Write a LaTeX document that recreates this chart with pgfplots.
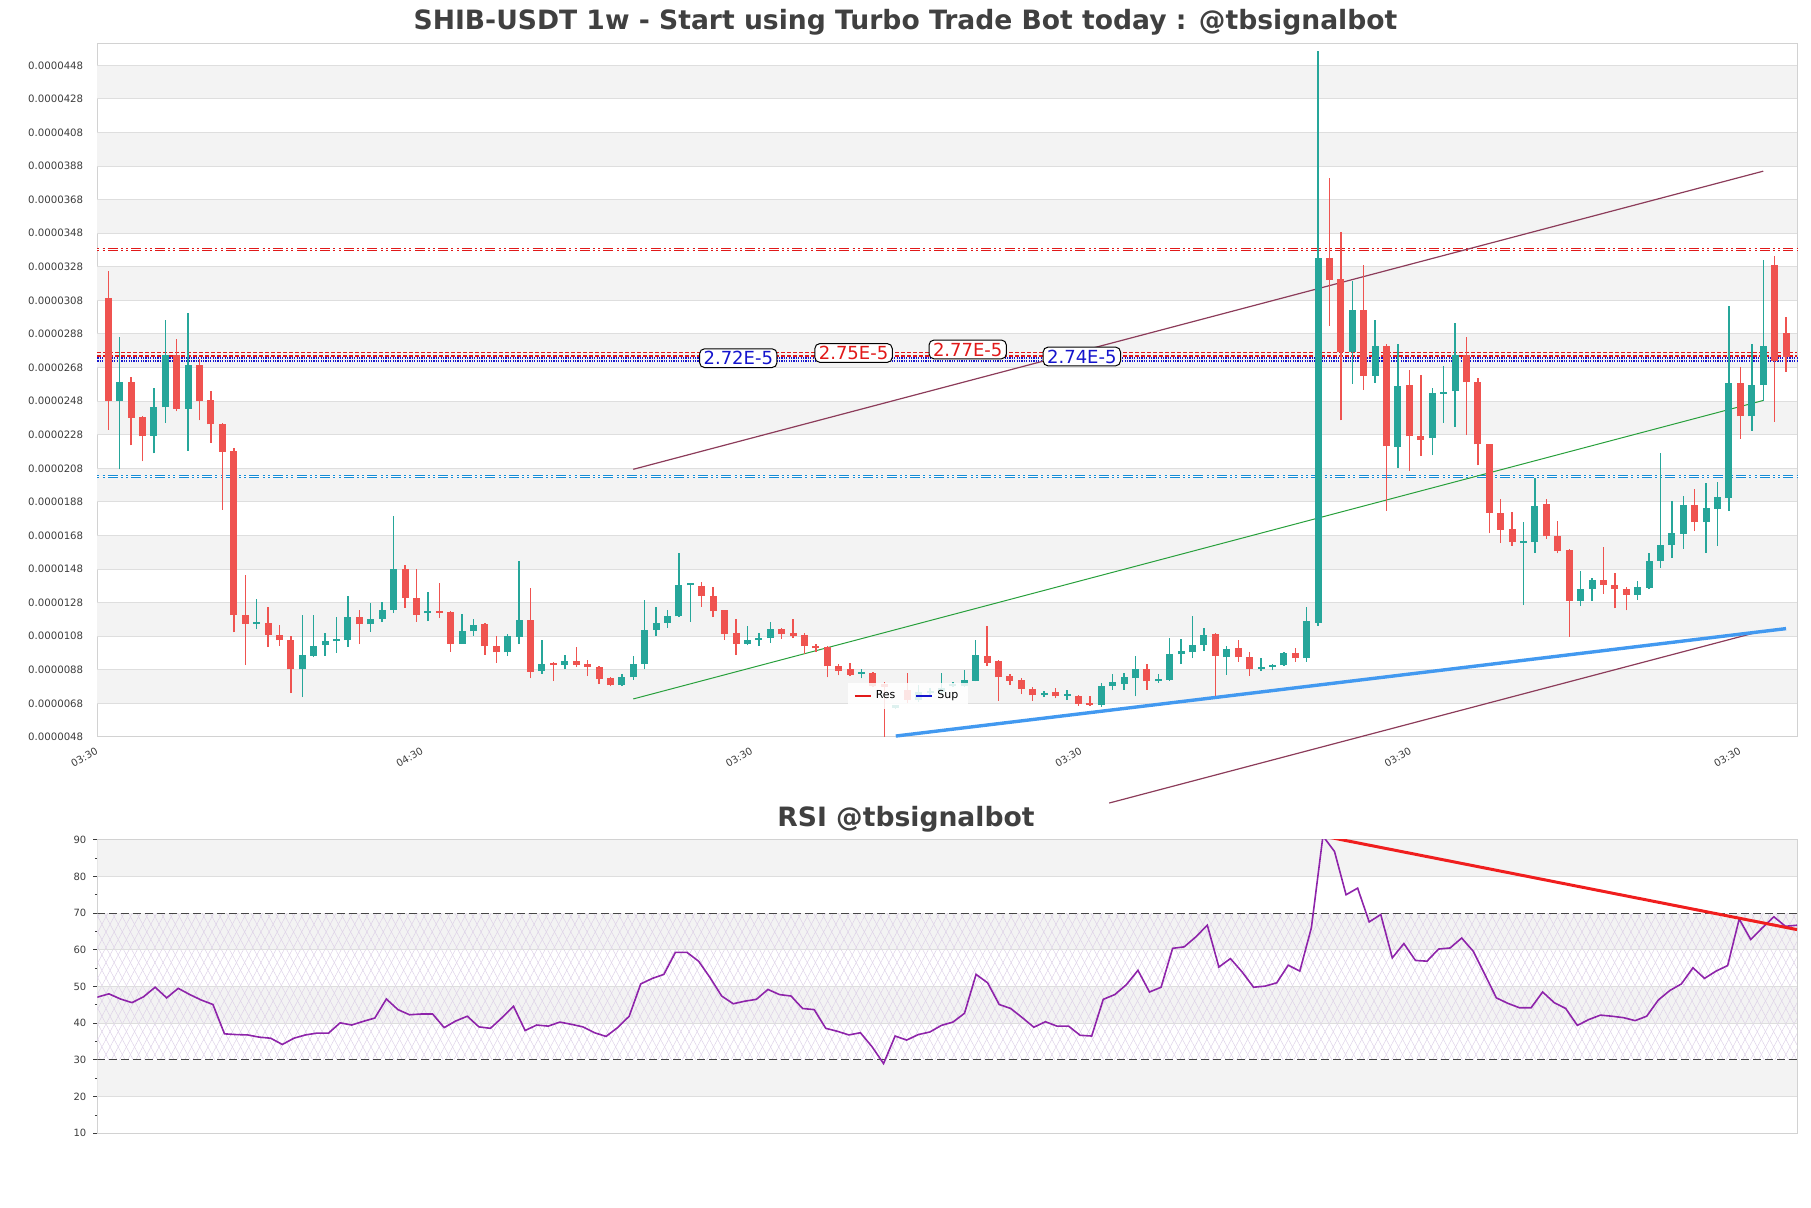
\documentclass[border=0pt]{standalone}
\usepackage{pgfplots}
\usepackage{pgfplotstable}
\pgfplotsset{compat=1.18}
\usepackage{fontspec}
\setmainfont{DejaVu Sans}
\usetikzlibrary{patterns.meta}

\definecolor{upGreen}{RGB}{38,166,154}
\definecolor{downRed}{RGB}{239,83,80}
\definecolor{bandGray}{RGB}{243,243,243}
\definecolor{gridGray}{RGB}{222,222,222}
\definecolor{frameGray}{RGB}{210,210,210}
\definecolor{tickGray}{RGB}{60,60,60}
\definecolor{titleGray}{RGB}{64,64,64}
\definecolor{chanBrown}{RGB}{140,60,90}
\definecolor{chanGreen}{RGB}{40,160,60}
\definecolor{supLine}{RGB}{66,153,240}
\definecolor{resRed}{RGB}{225,25,25}
\definecolor{supBlue}{RGB}{20,20,205}
\definecolor{cyanLevel}{RGB}{20,140,215}
\definecolor{rsiPurple}{RGB}{142,36,170}
\definecolor{rsiRed}{RGB}{240,30,30}
\definecolor{dashGray}{RGB}{70,70,70}
\definecolor{hatchViolet}{RGB}{222,210,232}

% weekly candles, prices in units of 1e-6 -- rising weeks
\pgfplotstableread{
i o h l c
1 24.83 28.63 20.73 25.94
4 22.75 25.57 21.69 24.45
5 24.43 29.64 23.52 27.57
7 24.35 30.04 21.85 26.95
13 11.53 13.02 11.21 11.64
17 8.82 12.06 7.17 9.67
18 9.61 12.09 9.53 10.23
19 10.25 11.00 9.64 10.49
20 10.49 11.95 9.80 10.57
21 10.55 13.20 10.15 11.95
23 11.50 12.75 11.05 11.85
24 11.85 12.86 11.64 12.38
25 12.38 17.96 12.17 14.80
28 12.17 13.42 11.69 12.27
31 10.36 12.14 10.33 11.08
32 11.08 11.80 10.81 11.48
35 9.83 10.92 9.61 10.81
36 10.76 15.25 10.33 11.74
38 8.74 10.55 8.55 9.16
40 9.08 9.67 8.82 9.35
45 7.89 8.55 7.83 8.36
46 8.34 9.61 8.20 9.13
47 9.13 12.96 8.82 11.16
48 11.16 12.54 10.79 11.61
49 11.61 12.38 11.29 11.98
50 11.98 15.73 11.93 13.82
51 13.82 13.92 11.66 13.88
56 10.36 11.40 10.25 10.55
57 10.60 11.00 10.23 10.68
58 10.68 11.66 10.41 11.21
66 8.55 8.87 8.28 8.63
69 6.55 6.72 6.48 6.63
71 7.00 7.90 6.90 7.50
72 7.40 7.70 7.20 7.50
73 7.50 8.60 7.30 7.70
74 7.81 8.07 7.76 7.97
75 7.81 8.76 7.76 8.20
76 8.15 10.55 8.10 9.67
82 7.27 7.54 7.17 7.43
84 7.25 7.57 7.01 7.33
87 6.69 8.02 6.61 7.83
88 7.83 8.55 7.59 8.07
89 7.97 8.60 7.62 8.34
90 8.28 9.61 7.22 8.82
92 8.10 8.55 8.02 8.23
93 8.18 10.68 8.13 9.72
94 9.72 10.63 9.13 9.93
95 9.83 12.01 9.48 10.28
96 10.28 11.27 9.93 10.87
98 9.53 10.20 8.50 10.01
101 8.87 9.48 8.74 8.98
102 8.95 9.16 8.76 9.08
103 9.08 9.88 9.03 9.80
105 9.48 12.54 9.29 11.69
106 11.61 45.65 11.42 33.34
109 27.70 31.95 25.84 30.23
111 26.32 29.61 25.89 28.07
113 22.06 28.23 20.84 25.70
116 22.59 25.57 21.58 25.30
117 25.25 26.90 23.52 25.36
118 25.38 29.45 23.26 27.57
124 16.34 17.59 12.65 16.45
125 16.40 20.20 15.78 18.58
129 12.89 14.67 12.59 13.60
130 13.60 14.27 12.89 14.14
134 13.28 14.08 12.97 13.74
135 13.69 15.78 13.60 15.28
136 15.28 21.72 14.88 16.26
137 16.26 18.87 15.47 16.93
138 16.87 19.16 16.00 18.61
140 17.59 19.91 15.78 18.45
141 18.40 19.99 16.18 19.11
142 19.03 30.44 18.26 25.89
144 23.90 28.23 23.04 25.76
145 25.76 33.23 24.83 28.10
}\upc

% falling weeks
\pgfplotstableread{
i o h l c
0 30.94 32.54 23.10 24.83
2 25.94 26.21 22.17 23.82
3 23.84 23.90 21.21 22.70
6 27.57 28.50 24.19 24.35
8 26.95 27.30 23.66 24.83
9 24.88 25.41 22.33 23.41
10 23.44 23.49 18.34 21.80
11 21.82 21.98 11.03 12.09
12 12.09 14.45 9.08 11.53
14 11.61 12.54 10.15 10.89
15 10.89 11.48 10.20 10.55
16 10.60 10.81 7.41 8.82
22 11.95 12.38 10.33 11.50
26 14.80 15.01 12.49 13.07
27 13.07 14.83 11.66 12.09
29 12.27 13.95 11.87 12.19
30 12.25 12.30 9.88 10.36
33 11.53 11.61 9.69 10.20
34 10.20 10.81 9.22 9.83
37 11.74 13.66 8.28 8.68
39 9.19 9.27 8.12 9.08
41 9.35 10.15 8.95 9.08
42 9.13 9.40 8.42 8.95
43 8.95 9.03 7.94 8.23
44 8.28 8.36 7.81 7.89
52 13.76 14.00 12.54 13.18
53 13.18 13.74 11.93 12.27
54 12.33 12.38 10.60 10.95
55 11.00 11.82 9.67 10.36
59 11.21 11.27 10.63 10.95
60 11.00 11.85 10.68 10.81
61 10.87 11.00 9.75 10.20
62 10.17 10.36 9.88 10.07
63 10.15 10.20 8.34 9.00
64 9.00 9.13 8.47 8.74
65 8.82 9.19 8.42 8.50
67 8.63 8.68 7.75 7.83
68 7.95 8.05 4.82 7.80
70 7.60 8.59 6.80 7.00
77 9.61 11.40 9.03 9.22
78 9.35 9.40 6.95 8.34
79 8.42 8.55 7.89 8.15
80 8.20 8.28 7.35 7.67
81 7.67 7.75 6.95 7.27
83 7.49 7.70 7.09 7.22
85 7.22 7.27 6.64 6.77
86 6.79 7.22 6.64 6.72
91 8.82 9.16 7.62 8.10
97 10.95 11.00 7.22 9.61
99 10.07 10.55 9.29 9.53
100 9.56 9.88 8.42 8.87
104 9.80 10.09 9.29 9.48
107 33.34 38.07 29.29 32.01
108 32.09 34.88 23.66 27.70
110 30.23 32.94 25.49 26.32
112 28.10 28.23 18.26 22.11
114 25.78 26.64 20.65 22.70
115 22.73 26.37 21.53 22.51
119 27.57 28.63 22.78 25.92
120 25.92 26.18 20.97 22.22
121 22.22 22.25 16.93 18.13
122 18.13 19.00 16.34 17.14
123 17.19 18.18 16.18 16.40
126 18.66 19.00 16.61 16.74
127 16.79 17.65 15.73 15.86
128 15.94 16.00 10.76 12.89
131 14.14 16.13 13.34 13.87
132 13.87 14.59 12.46 13.60
133 13.60 13.74 12.33 13.28
139 18.61 19.59 17.06 17.59
143 25.89 26.82 22.57 23.90
146 32.94 33.42 23.58 27.22
147 28.84 29.83 26.55 27.43
}\downc

\pgfplotstableread{
j r
0 47.1
1 48.0
2 46.6
3 45.6
4 47.2
5 49.8
6 46.9
7 49.5
8 47.8
9 46.3
10 45.1
11 37.1
12 36.9
13 36.8
14 36.2
15 35.9
16 34.2
17 35.9
18 36.8
19 37.3
20 37.3
21 40.1
22 39.5
23 40.5
24 41.4
25 46.6
26 43.7
27 42.3
28 42.5
29 42.5
30 38.8
31 40.6
32 41.9
33 39.0
34 38.6
35 41.5
36 44.6
37 38.0
38 39.5
39 39.2
40 40.3
41 39.7
42 39.0
43 37.4
44 36.4
45 38.8
46 41.9
47 50.7
48 52.2
49 53.3
50 59.3
51 59.3
52 56.9
53 52.4
54 47.4
55 45.3
56 46.0
57 46.5
58 49.2
59 47.8
60 47.4
61 44.0
62 43.7
63 38.6
64 37.8
65 36.8
66 37.4
67 33.6
68 29.0
69 36.5
70 35.4
71 36.9
72 37.6
73 39.4
74 40.3
75 42.7
76 53.3
77 51.0
78 45.1
79 44.0
80 41.5
81 38.9
82 40.4
83 39.2
84 39.2
85 36.7
86 36.5
87 46.5
88 47.8
89 50.5
90 54.4
91 48.5
92 49.8
93 60.4
94 60.8
95 63.5
96 66.7
97 55.3
98 57.6
99 54.0
100 49.8
101 50.1
102 51.0
103 55.8
104 54.2
105 66.0
106 91.0
107 86.8
108 75.0
109 76.8
110 67.6
111 69.6
112 57.8
113 61.7
114 57.1
115 56.9
116 60.2
117 60.5
118 63.2
119 59.6
120 53.3
121 46.9
122 45.4
123 44.2
124 44.2
125 48.5
126 45.6
127 44.0
128 39.4
129 41.0
130 42.2
131 41.9
132 41.5
133 40.7
134 41.9
135 46.3
136 48.9
137 50.7
138 55.1
139 52.2
140 54.2
141 55.7
142 68.4
143 62.8
144 66.0
145 69.0
146 66.4
147 66.7
}\rsidata

\tikzset{
  levelpat/.style={dash pattern=on 1pt off 1.6pt on 1pt off 1.6pt on 5pt off 1.6pt},
  lvlbox/.style={draw=black, line width=0.5pt, rounded corners=2.5pt, fill=white,
    font=\fontsize{9}{9}\selectfont, inner xsep=2pt, inner ysep=1.4pt,
    text height=6.6pt, text depth=0pt},
}

\begin{document}
\begin{tikzpicture}
\useasboundingbox (0,0) rectangle (905.5pt,604pt);

\node[font=\fontsize{13.3}{16}\selectfont\bfseries, text=titleGray]
  at (452.75pt,593pt) {SHIB-USDT 1w - Start using Turbo Trade Bot today : @tbsignalbot};
\node[font=\fontsize{13.3}{16}\selectfont\bfseries, text=titleGray]
  at (453pt,194.5pt) {RSI @tbsignalbot};

% ---------------- price panel ----------------
\begin{axis}[
    at={(48.65pt,235.55pt)}, anchor=south west,
    scale only axis, width=849.85pt, height=346.65pt,
    xmin=-0.96, xmax=147.96, ymin=4.8, ymax=46.1,
    clip=false,
    axis line style={draw=frameGray, line width=0.5pt},
    major tick length=0pt,
    ytick={4.8,6.8,8.8,10.8,12.8,14.8,16.8,18.8,20.8,22.8,24.8,26.8,28.8,30.8,32.8,34.8,36.8,38.8,40.8,42.8,44.8},
    yticklabels={0.0000048,0.0000068,0.0000088,0.0000108,0.0000128,0.0000148,0.0000168,0.0000188,0.0000208,0.0000228,0.0000248,0.0000268,0.0000288,0.0000308,0.0000328,0.0000348,0.0000368,0.0000388,0.0000408,0.0000428,0.0000448},
    yticklabel style={font=\fontsize{5.1}{6}\selectfont, text=tickGray, xshift=-3.5pt},
    xtick={-0.95,27.56,56.42,85.28,114.14,143.0},
    xticklabels={03:30,04:30,03:30,03:30,03:30,03:30},
    xticklabel style={font=\fontsize{5}{6}\selectfont, text=tickGray, rotate=30, anchor=north east},
    legend style={at={(0.477,0.059)}, anchor=center, legend columns=2,
      draw=none, fill=white, fill opacity=0.85, text opacity=1,
      font=\fontsize{5.5}{6}\selectfont, inner xsep=3pt, inner ysep=1.5pt,
      /tikz/every even column/.append style={column sep=8pt}},
    legend image code/.code={\draw[#1] (0pt,0pt) -- (8pt,0pt);},
  ]

  % alternating background bands
  \pgfplotsinvokeforeach{6.8,10.8,14.8,18.8,22.8,26.8,30.8,34.8,38.8,42.8}{
    \addplot[forget plot, draw=none, fill=bandGray]
      coordinates {(-0.96,#1) (147.96,#1) (147.96,#1+2) (-0.96,#1+2)} -- cycle;
  }
  % grid lines
  \pgfplotsinvokeforeach{6.8,8.8,10.8,12.8,14.8,16.8,18.8,20.8,22.8,24.8,26.8,28.8,30.8,32.8,34.8,36.8,38.8,40.8,42.8,44.8}{
    \addplot[forget plot, gridGray, line width=0.5pt] coordinates {(-0.96,#1) (147.96,#1)};
  }

  % horizontal levels
  \addplot[forget plot, resRed, line width=1.4pt, levelpat] coordinates {(-0.96,33.84) (147.96,33.84)};
  \addplot[forget plot, white, line width=0.3pt, levelpat] coordinates {(-0.96,33.84) (147.96,33.84)};
  \addplot[forget plot, cyanLevel, line width=1.4pt, levelpat] coordinates {(-0.96,20.30) (147.96,20.30)};
  \addplot[forget plot, white, line width=0.3pt, levelpat] coordinates {(-0.96,20.30) (147.96,20.30)};
  \addplot[forget plot, resRed, line width=0.8pt, dash pattern=on 2pt off 1pt] coordinates {(-0.96,27.70) (147.96,27.70)};
  \addplot[forget plot, resRed, line width=0.8pt, dash pattern=on 2pt off 1pt] coordinates {(-0.96,27.50) (147.96,27.50)};
  \addplot[forget plot, supBlue, line width=0.8pt, dash pattern=on 0.6pt off 0.6pt] coordinates {(-0.96,27.38) (147.96,27.38)};
  \addplot[forget plot, supBlue, line width=0.8pt, dash pattern=on 0.6pt off 0.6pt] coordinates {(-0.96,27.20) (147.96,27.20)};

  % channel and trend lines
  \addplot[forget plot, chanBrown, line width=0.6pt] coordinates {(46,20.74) (145,38.50)};
  \addplot[forget plot, chanGreen, line width=0.5pt] coordinates {(46,7.06) (145,24.84)};
  \addplot[forget plot, chanBrown, line width=0.6pt] coordinates {(87.7,0.86) (145,11.13)};
  \addplot[forget plot, supLine, line width=1.7pt] coordinates {(69,4.85) (147,11.25)};

  % wicks (low to high)
  \addplot[forget plot, mark=none, upGreen, line width=0.7pt,
    quiver={u=0, v=\thisrow{h}-\thisrow{l}}]
    table[x=i, y=l] {\upc};
  \addplot[forget plot, mark=none, downRed, line width=0.7pt,
    quiver={u=0, v=\thisrow{h}-\thisrow{l}}]
    table[x=i, y=l] {\downc};
  % bodies (open to close)
  \addplot[forget plot, mark=none, upGreen, line width=3.5pt,
    quiver={u=0, v={max(\thisrow{c}-\thisrow{o},0.12)}}]
    table[x=i, y=o] {\upc};
  \addplot[forget plot, mark=none, downRed, line width=3.5pt,
    quiver={u=0, v={max(\thisrow{o}-\thisrow{c},0.12)}}]
    table[x=i, y=c] {\downc};

  \node[lvlbox, text=supBlue] at (axis cs:55.2,27.36) {2.72E-5};
  \node[lvlbox, text=resRed] at (axis cs:65.3,27.67) {2.75E-5};
  \node[lvlbox, text=resRed] at (axis cs:75.3,27.88) {2.77E-5};
  \node[lvlbox, text=supBlue] at (axis cs:85.3,27.46) {2.74E-5};

  \addlegendimage{resRed, line width=1pt}
  \addlegendentry{Res}
  \addlegendimage{supBlue, line width=1pt}
  \addlegendentry{Sup}
\end{axis}

% ---------------- RSI panel ----------------
\begin{axis}[
    at={(48.65pt,37.35pt)}, anchor=south west,
    scale only axis, width=849.85pt, height=146.8pt,
    xmin=0, xmax=147, ymin=10, ymax=90,
    axis line style={draw=frameGray, line width=0.5pt},
    xtick=\empty,
    ytick={10,20,30,40,50,60,70,80,90},
    ytick pos=left,
    minor y tick num=1,
    tick align=outside,
    major tick length=2pt, minor tick length=1.2pt,
    tick style={draw=tickGray, line width=0.4pt},
    /pgf/number format/assume math mode=true,
    yticklabel style={font=\fontsize{5}{6}\selectfont, text=tickGray},
  ]
  \pgfplotsinvokeforeach{20,40,60,80}{
    \addplot[draw=none, fill=bandGray]
      coordinates {(0,#1) (147,#1) (147,#1+10) (0,#1+10)} -- cycle;
  }
  \addplot[draw=none, pattern={Lines[angle=62,distance=3.6pt,line width=0.25pt]}, pattern color=hatchViolet]
    coordinates {(0,30) (147,30) (147,70) (0,70)} -- cycle;
  \addplot[draw=none, pattern={Lines[angle=-62,distance=3.6pt,line width=0.25pt]}, pattern color=hatchViolet]
    coordinates {(0,30) (147,30) (147,70) (0,70)} -- cycle;
  \pgfplotsinvokeforeach{20,40,50,60,80}{
    \addplot[gridGray, line width=0.5pt] coordinates {(0,#1) (147,#1)};
  }

  \addplot[dashGray, line width=0.6pt, dash pattern=on 4pt off 2pt] coordinates {(0,70) (147,70)};
  \addplot[dashGray, line width=0.6pt, dash pattern=on 4pt off 2pt] coordinates {(0,30) (147,30)};
  \addplot[rsiPurple, line width=0.8pt] table[x=j, y=r] {\rsidata};
  \addplot[rsiRed, line width=1.5pt] coordinates {(106,91.0) (147,65.5)};
\end{axis}
\end{tikzpicture}
\end{document}
